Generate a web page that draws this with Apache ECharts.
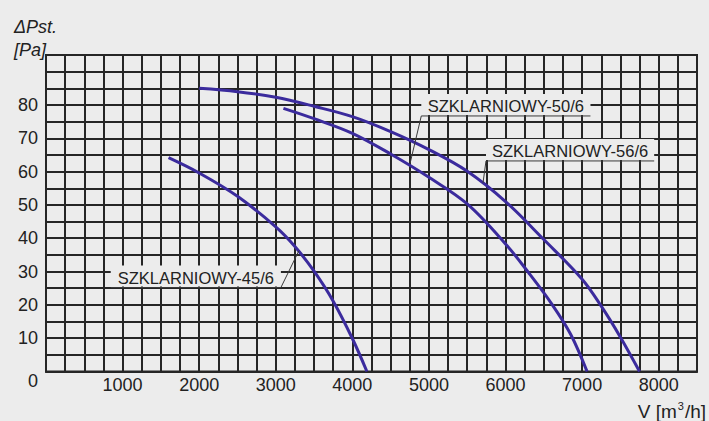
<!DOCTYPE html>
<html>
<head>
<meta charset="utf-8">
<script src="https://cdn.jsdelivr.net/npm/echarts/dist/echarts.min.js"></script>
<style>
html,body{margin:0;padding:0;background:#ececec;}
#chart{width:709px;height:421px;}
</style>
</head>
<body>
<div id="chart"></div>
<script>
// ---- data ----
const xTickLabels = [1000, 2000, 3000, 4000, 5000, 6000, 7000, 8000];
const yTickLabels = [0, 10, 20, 30, 40, 50, 60, 70, 80];
const seriesNames = ['SZKLARNIOWY-45/6', 'SZKLARNIOWY-50/6', 'SZKLARNIOWY-56/6'];
const curve45 = [[1600,64.2],[2000,59.6],[2500,52.6],[3000,43.4],[3250,37.5],[3500,30.1],[3750,21.1],[4000,9.9],[4190,0]];
const curve50 = [[3100,79],[3500,75.9],[4000,71.5],[4500,65.3],[5000,58.3],[5500,50.3],[6000,38.3],[6300,29.7],[6600,20.4],[6850,11.2],[7065,0]];
const curve56 = [[2000,85],[2500,84],[3000,82.3],[3500,79.6],[4000,76.5],[4500,72],[5000,66.6],[5500,60.1],[6000,51],[6500,39.6],[7000,27.7],[7250,19.6],[7500,10.3],[7750,0]];

// annotation anchors (data coordinates)
const annotations = [
  {text: seriesNames[1], from: [4900, 76.7], to: [7109, 76.7], target: [4753, 62.4], leader: 'start'},
  {text: seriesNames[2], from: [5745, 63.2], to: [7941, 63.2], target: [5706, 56.6], leader: 'start'},
  {text: seriesNames[0], from: [845, 25.2], to: [3067, 25.2], target: [3301, 36.2], leader: 'end'}
];

const FONT = '"Liberation Sans", Arial, sans-serif';
const TXT = '#222';
const GRIDC = '#262626';
const CURVE = '#3b2b9d';

const chart = echarts.init(document.getElementById('chart'), null, {renderer: 'svg'});

function lineSeries(name, data) {
  return {
    name: name, type: 'line', data: data, smooth: 0.35, showSymbol: false, symbol: 'none',
    lineStyle: {color: CURVE, width: 3}, z: 3, animation: false
  };
}

chart.setOption({
  backgroundColor: '#ececec',
  animation: false,
  textStyle: {fontFamily: FONT},
  title: {
    text: 'ΔPst.\n[Pa]', left: 9, top: 10,
    textStyle: {fontFamily: FONT, fontStyle: 'italic', fontWeight: 'normal', fontSize: 18, lineHeight: 23, color: TXT}
  },
  grid: {left: 46, right: 9, top: 55, bottom: 47, show: true, borderColor: GRIDC, borderWidth: 2, backgroundColor: 'transparent'},
  xAxis: {
    type: 'value', min: 0, max: 8500, interval: 250,
    name: '{a|V [m}{s|3}{a|/h]}',
    nameLocation: 'end', nameGap: 9,
    nameTextStyle: {
      align: 'right', verticalAlign: 'top', padding: [29, 0, 0, 0],
      rich: {
        a: {fontFamily: FONT, fontSize: 19, color: TXT, lineHeight: 22},
        s: {fontFamily: FONT, fontSize: 11, color: TXT, lineHeight: 22, verticalAlign: 'top', padding: [0, 1, 0, 1]}
      }
    },
    axisLine: {show: true, lineStyle: {color: GRIDC, width: 2}},
    axisTick: {show: false},
    axisLabel: {
      interval: 0, margin: 4, fontFamily: FONT, fontSize: 18, color: TXT,
      formatter: v => xTickLabels.includes(v) ? String(v) : ''
    },
    splitLine: {show: true, lineStyle: {color: GRIDC, width: 2}}
  },
  yAxis: {
    type: 'value', min: 0, max: 95, interval: 5,
    axisLine: {show: true, lineStyle: {color: GRIDC, width: 2}},
    axisTick: {show: false},
    axisLabel: {
      interval: 0, margin: 8, fontFamily: FONT, fontSize: 18, color: TXT,
      formatter: v => yTickLabels.includes(v) ? (v === 0 ? '{z|0}' : String(v)) : '',
      rich: {z: {fontFamily: FONT, fontSize: 18, color: TXT, padding: [18, 0, 0, 0]}}
    },
    splitLine: {show: true, lineStyle: {color: GRIDC, width: 2}}
  },
  series: [
    lineSeries(seriesNames[0], curve45),
    lineSeries(seriesNames[1], curve50),
    lineSeries(seriesNames[2], curve56)
  ]
});

function buildAnnot(a) {
  const p1 = chart.convertToPixel({gridIndex: 0}, a.from);
  const p2 = chart.convertToPixel({gridIndex: 0}, a.to);
  const pt = chart.convertToPixel({gridIndex: 0}, a.target);
  const lf = a.leader === 'start' ? p1 : p2;
  return [
    {type: 'rect', z: 10, shape: {x: p1[0], y: p1[1] - 22, width: p2[0] - p1[0], height: 21}, style: {fill: '#ececec'}},
    {type: 'line', z: 11, shape: {x1: p1[0], y1: p1[1], x2: p2[0], y2: p2[1]}, style: {stroke: '#3a3a3a', lineWidth: 1}},
    {type: 'line', z: 11, shape: {x1: lf[0], y1: lf[1], x2: pt[0], y2: pt[1]}, style: {stroke: '#3a3a3a', lineWidth: 1}},
    {type: 'text', z: 12, x: (p1[0] + p2[0]) / 2, y: p1[1] - 10,
     style: {text: a.text, fontFamily: FONT, fontSize: 16.5, fill: TXT, align: 'center', verticalAlign: 'middle'}}
  ];
}

let els = [];
annotations.forEach(a => { els = els.concat(buildAnnot(a)); });
chart.setOption({graphic: els});
</script>
</body>
</html>
